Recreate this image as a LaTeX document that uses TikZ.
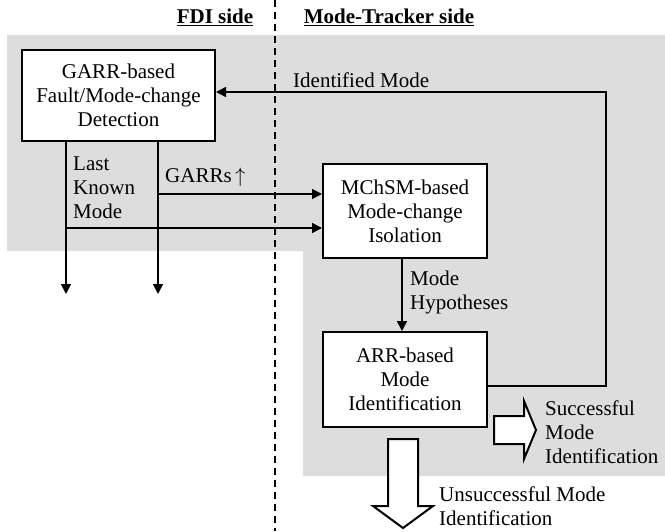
\documentclass[tikz,border=0pt]{standalone}
\usepackage{fontspec}
\setmainfont{Liberation Serif}
\usepackage{tikz}
\usetikzlibrary{arrows.meta}

\definecolor{bggray}{RGB}{221,221,221}

\begin{document}
\begin{tikzpicture}[x=1pt, y=-1pt,
    font=\fontsize{21}{24}\selectfont,
    block/.style={shape=rectangle, draw, line width=2pt, fill=white, align=center, inner sep=0pt},
    txt/.style={inner sep=0pt, anchor=west, align=left},
    link/.style={line width=1.6pt, -{Triangle[length=10pt,width=10pt]}},
    fatarrow/.style={draw, line width=2pt, fill=white, line join=miter}]
    \useasboundingbox (0,0) rectangle (665,531);

    % shaded area behind the loop
    \fill[bggray] (7,35) -- (665,35) -- (665,476) -- (303,476) -- (303,251) -- (7,251) -- cycle;
    \draw[line width=1.4pt, dash pattern=on 7pt off 5pt] (275,0) -- (275,531);

    \node[inner sep=0pt] (fdi) at (215,17) {\textbf{\underline{FDI side}}};
    \node[inner sep=0pt] (trk) at (389,17) {\textbf{\underline{Mode-Tracker side}}};

    \node[block, minimum width=193pt, minimum height=91pt] (garr) at (118.5,95.5)
        {GARR-based\\Fault/Mode-change\\Detection};
    \node[block, minimum width=164pt, minimum height=94pt] (mchsm) at (405,211)
        {MChSM-based\\Mode-change\\Isolation};
    \node[block, minimum width=164pt, minimum height=95pt] (arr) at (405,379.5)
        {ARR-based\\Mode\\Identification};

    \coordinate (lkm) at (66,294);
    \coordinate (grs) at (158,294);
    \coordinate (ltap) at (66,228);
    \coordinate (gtap) at (158,194);
    \coordinate (back) at (606,92);

    \draw[link] (garr.south -| lkm) -- (lkm);
    \draw[link] (garr.south -| grs) -- (grs);
    \draw[link] (gtap) -- (mchsm.west |- gtap);
    \draw[link] (ltap) -- (mchsm.west |- ltap);
    \draw[link] (mchsm.south -| 402,0) -- (arr.north -| 402,0);
    \draw[link] ([yshift=-6.5pt]arr.east) -| (back) -- (garr.east |- back);

    \node[txt] (idm) at (293,80) {Identified Mode};
    \node[txt] (last) at (73,187.5) {Last\\Known\\Mode};
    \node[txt] (garrs) at (165,177) {GARRs\,$\uparrow$};
    \node[txt] (hyp) at (410,292) {Mode\\Hypotheses};

    % outcome arrows
    \draw[fatarrow] (494,416) -- (524,416) -- (524,401) -- (536,430) -- (524,459) -- (524,444) -- (494,444) -- cycle;
    \draw[fatarrow] (388,439) -- (418,439) -- (418,506) -- (433,506) -- (403,528) -- (373,506) -- (388,506) -- cycle;

    \node[txt] (succ) at (545,432) {Successful\\Mode\\Identification};
    \node[txt] (fail) at (439,506.5) {Unsuccessful Mode\\Identification};
\end{tikzpicture}
\end{document}
